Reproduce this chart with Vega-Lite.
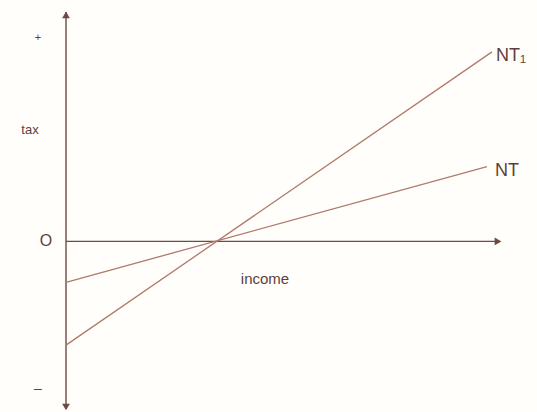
{
  "$schema": "https://vega.github.io/schema/vega-lite/v6.json",
  "width": 537,
  "height": 412,
  "autosize": {"type": "fit", "contains": "padding"},
  "padding": 0,
  "background": "#fffefb",
  "config": {"view": {"stroke": null}},
  "layer": [
    {
      "data": {"values": [
        {"seg": "yaxis", "income": 0, "tax": 23.0},
        {"seg": "yaxis", "income": 0, "tax": -16.8},
        {"seg": "xaxis", "income": 0, "tax": 0},
        {"seg": "xaxis", "income": 43.4, "tax": 0}
      ]},
      "mark": {"type": "line", "color": "#6e4a42", "strokeWidth": 1.4},
      "encoding": {
        "x": {"field": "income", "type": "quantitative", "scale": {"domain": [-6.6, 47.1], "nice": false, "zero": false}, "axis": null},
        "y": {"field": "tax", "type": "quantitative", "scale": {"domain": [-17, 24.2], "nice": false, "zero": false}, "axis": null},
        "detail": {"field": "seg"},
        "order": {"field": "tax"}
      }
    },
    {
      "data": {"values": [
        {"line": "NT", "income": 0, "tax": -4.1},
        {"line": "NT", "income": 42.1, "tax": 7.5},
        {"line": "NT1", "income": 0, "tax": -10.4},
        {"line": "NT1", "income": 42.6, "tax": 19.0}
      ]},
      "mark": {"type": "line", "color": "#b07a6c", "strokeWidth": 1.3},
      "encoding": {
        "x": {"field": "income", "type": "quantitative", "scale": {"domain": [-6.6, 47.1], "nice": false, "zero": false}, "axis": null},
        "y": {"field": "tax", "type": "quantitative", "scale": {"domain": [-17, 24.2], "nice": false, "zero": false}, "axis": null},
        "detail": {"field": "line"}
      }
    },
    {
      "data": {"values": [
        {"shape": "triangle-up", "income": 0, "tax": 22.7},
        {"shape": "triangle-down", "income": 0, "tax": -16.6},
        {"shape": "triangle-right", "income": 43.2, "tax": 0}
      ]},
      "mark": {"type": "point", "filled": true, "color": "#6e4a42", "size": 60, "opacity": 1},
      "encoding": {
        "x": {"field": "income", "type": "quantitative", "scale": {"domain": [-6.6, 47.1], "nice": false, "zero": false}, "axis": null},
        "y": {"field": "tax", "type": "quantitative", "scale": {"domain": [-17, 24.2], "nice": false, "zero": false}, "axis": null},
        "shape": {"field": "shape", "type": "nominal", "scale": null}
      }
    },
    {
      "data": {"values": [
        {"label": "+", "income": -2.8, "tax": 20.4, "size": 11},
        {"label": "tax", "income": -3.6, "tax": 11.2, "size": 13},
        {"label": "O", "income": -2.0, "tax": 0, "size": 16},
        {"label": "–", "income": -2.8, "tax": -14.8, "size": 14},
        {"label": "income", "income": 19.9, "tax": -3.8, "size": 15}
      ]},
      "mark": {"type": "text", "color": "#5e3f3a", "font": "Liberation Sans", "align": "center", "baseline": "middle"},
      "encoding": {
        "x": {"field": "income", "type": "quantitative", "scale": {"domain": [-6.6, 47.1], "nice": false, "zero": false}, "axis": null},
        "y": {"field": "tax", "type": "quantitative", "scale": {"domain": [-17, 24.2], "nice": false, "zero": false}, "axis": null},
        "text": {"field": "label"},
        "size": {"field": "size", "type": "quantitative", "scale": null}
      }
    },
    {
      "data": {"values": [
        {"label": "NT₁", "income": 43.0, "tax": 18.6},
        {"label": "NT", "income": 42.9, "tax": 7.1}
      ]},
      "mark": {"type": "text", "color": "#5e3f3a", "font": "Liberation Sans", "fontSize": 18, "align": "left", "baseline": "middle"},
      "encoding": {
        "x": {"field": "income", "type": "quantitative", "scale": {"domain": [-6.6, 47.1], "nice": false, "zero": false}, "axis": null},
        "y": {"field": "tax", "type": "quantitative", "scale": {"domain": [-17, 24.2], "nice": false, "zero": false}, "axis": null},
        "text": {"field": "label"}
      }
    }
  ]
}
